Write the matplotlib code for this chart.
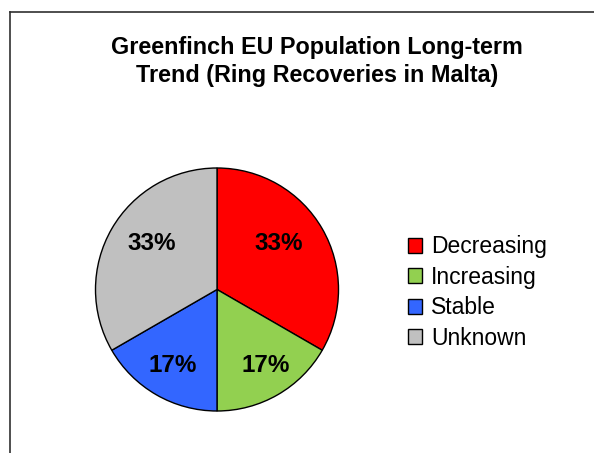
import matplotlib
matplotlib.use("Agg")
import matplotlib.pyplot as plt
from matplotlib.lines import Line2D
from matplotlib.patches import Patch

categories = ["Decreasing", "Increasing", "Stable", "Unknown"]
values = [2, 1, 1, 2]
colors = ["#FF0000", "#92D050", "#3366FF", "#C0C0C0"]
title = "Greenfinch EU Population Long-term\nTrend (Ring Recoveries in Malta)"

# percentage label placement (in pie radius units), mimicking the original layout
label_pos = [(0.505, 0.38), (0.40, -0.625), (-0.365, -0.625), (-0.537, 0.38)]

plt.rcParams['font.family'] = ['Liberation Sans', 'DejaVu Sans']

W, H = 594, 453
fig = plt.figure(figsize=(W / 100, H / 100), dpi=100)
fig.patch.set_facecolor('white')

# chart area border (left and top edges visible)
fig.add_artist(Line2D([10 / W, 10 / W], [0, 1 - 12 / H], transform=fig.transFigure,
                      color='#303030', lw=1.2))
fig.add_artist(Line2D([10 / W, 1], [1 - 12 / H, 1 - 12 / H], transform=fig.transFigure,
                      color='#303030', lw=1.2))

fig.text(317 / W, 1 - 61.5 / H, title, ha='center', va='center', fontsize=16.8,
         fontweight='bold', linespacing=1.24)

cx, cy, r = 217, 289.5, 121.5
ax = fig.add_axes([(cx - r) / W, (H - cy - r) / H, 2 * r / W, 2 * r / H])
wedges, texts, autotexts = ax.pie(
    values, colors=colors, startangle=90, counterclock=False,
    autopct=lambda p: f"{p:.0f}%", pctdistance=0.68,
    wedgeprops=dict(edgecolor='black', linewidth=1.0),
    textprops=dict(fontsize=17.5, fontweight='bold', color='black'))
for t, pos in zip(autotexts, label_pos):
    t.set_position(pos)
    t.set_ha('center')
    t.set_va('center')
ax.set_xlim(-1, 1)
ax.set_ylim(-1, 1)
ax.set_aspect('equal')
ax.axis('off')

handles = [Patch(facecolor=c, edgecolor='black', linewidth=1.0) for c in colors]
fig.legend(handles, categories, loc='center left', bbox_to_anchor=(408 / W, 1 - 292.5 / H),
           frameon=False, fontsize=16.5, handlelength=0.62, handleheight=0.62,
           handletextpad=0.38, labelspacing=0.33, borderpad=0, borderaxespad=0)

fig.savefig("out.png", dpi=100)
